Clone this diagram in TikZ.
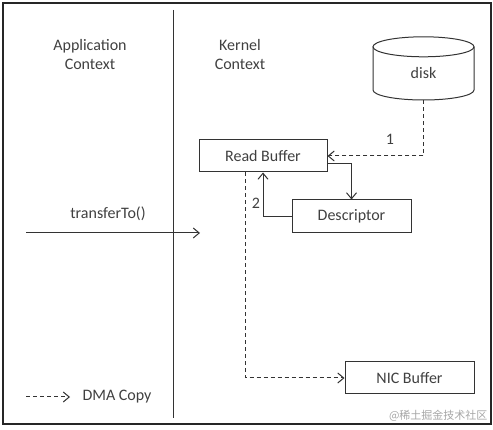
\documentclass[tikz,border=0pt]{standalone}
\usepackage{fontspec}
\setmainfont{Carlito}
\newfontfamily\cjk{Noto Sans CJK SC}
\usetikzlibrary{arrows.meta}

\begin{document}
\begin{tikzpicture}[
    x=1pt, y=-1pt,
    every node/.style={font=\fontsize{16}{19}\selectfont, text=black!75},
    buffer/.style={rectangle, draw=black!80, line width=1pt, minimum height=32pt, align=center, inner sep=0pt},
    line/.style={line width=1pt, black!80},
    arrow/.style={line, -{Straight Barb[length=6pt,width=10pt]}},
    dma/.style={arrow, dash pattern=on 4pt off 3pt}
]
\useasboundingbox (0,0) rectangle (493,430);
\draw[line width=1.6pt, black!85] (3,3) rectangle (491,424);

% contexts
\draw[line] (173,10) -- (173,418);
\node (appctx) at (90,55) [align=center] {Application\\Context};
\node (kerctx) at (240,55) [align=center] {Kernel\\Context};

% disk drawn as a cylinder round its node
\node[minimum width=101pt, minimum height=63pt, inner sep=0pt] (disk) at (423.5,68.5) {};
\node (disklabel) at (423.5,73) {disk};
\draw[line] (disk.north) ++(0,10) ellipse[x radius=50.5, y radius=10];
\draw[line] (373,47) -- (373,90) arc[start angle=180, end angle=0, x radius=50.5, y radius=10] -- (474,47);

% buffers
\node[buffer, minimum width=128pt] (read) at (263,156) {Read Buffer};
\node[buffer, minimum width=119pt, minimum height=33pt] (desc) at (351.5,216.5) {Descriptor};
\node[buffer, minimum width=129pt] (nic) at (409.5,378) {NIC Buffer};

\draw[dma] (disk.south) |- (read.east);
\node (one) at (390,139) {1};
\draw[arrow] ([yshift=-8pt]read.east) -| (desc.north);
\draw[arrow] (desc.west) -| (read.south);
\node (two) at (256,203) {2};
\draw[dma] ([xshift=-18pt]read.south) |- (nic.west);

% call from the application
\coordinate (callstart) at (26,233);
\coordinate (callend) at (200,233);
\node (call) at (108,214) {transferTo()};
\draw[arrow] (callstart) -- (callend);

% legend
\coordinate (legstart) at (26,397);
\coordinate (legend) at (70,397);
\draw[dma] (legstart) -- (legend);
\node (dmalabel) at (117,397) {DMA Copy};

\node[anchor=east, font=\cjk\fontsize{11}{12}\selectfont, text=black!35] (mark) at (491,416) {@稀土掘金技术社区};
\end{tikzpicture}
\end{document}
